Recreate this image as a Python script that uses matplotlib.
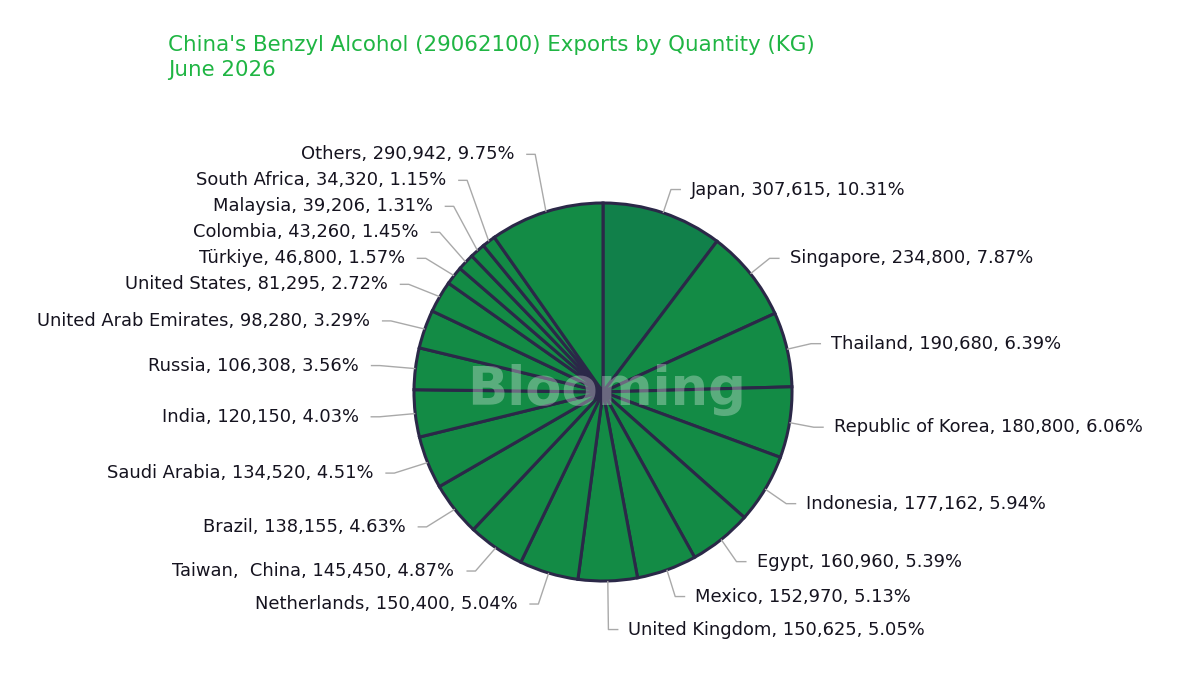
import numpy as np
import matplotlib
matplotlib.use("Agg")
import matplotlib.pyplot as plt

countries = ["Japan", "Singapore", "Thailand", "Republic of Korea", "Indonesia",
             "Egypt", "Mexico", "United Kingdom", "Netherlands", "Taiwan,  China",
             "Brazil", "Saudi Arabia", "India", "Russia", "United Arab Emirates",
             "United States", "Türkiye", "Colombia", "Malaysia", "South Africa", "Others"]
quantities = [307615, 234800, 190680, 180800, 177162, 160960, 152970, 150625,
              150400, 145450, 138155, 134520, 120150, 106308, 98280, 81295,
              46800, 43260, 39206, 34320, 290942]

title_line1 = "China's Benzyl Alcohol (29062100) Exports by Quantity (KG)"
title_line2 = "June 2026"

W, H = 1200, 675
fig = plt.figure(figsize=(12, 6.75), dpi=100)
ax = fig.add_axes([0, 0, 1, 1])

cx, cy, R = 603, H - 392, 189
colors = ["#11804a"] + ["#138b45"] * (len(quantities) - 1)
wedges, _ = ax.pie(quantities, colors=colors, startangle=90, counterclock=False,
                   center=(cx, cy), radius=R, frame=True,
                   wedgeprops=dict(edgecolor="#2b2848", linewidth=2.2))
ax.set_xlim(0, W)
ax.set_ylim(0, H)
ax.set_aspect("equal")
ax.axis("off")

total = float(sum(quantities))
font = "DejaVu Sans"

# label layout
items = []
for i, w in enumerate(wedges):
    mid = np.deg2rad((w.theta1 + w.theta2) / 2)
    c, s = np.cos(mid), np.sin(mid)
    side = 1 if c >= 0 else -1
    rx = (1.13 if side > 0 else 1.19) * R
    ry = (1.13 if s >= 0 else 1.15) * R
    items.append(dict(i=i, c=c, s=s, ex=rx * c, ey=ry * s, side=side))

for side in (1, -1):
    sub = [it for it in items if it["side"] == side]
    upper = sorted([it for it in sub if it["ey"] >= 0], key=lambda t: t["ey"])
    lower = sorted([it for it in sub if it["ey"] < 0], key=lambda t: -t["ey"])
    gap_up, gap_low = 26, 33
    prev = None
    for it in upper:
        if prev is not None and it["ey"] < prev + gap_up:
            it["ey"] = prev + gap_up
        prev = it["ey"]
    prev = None
    for it in lower:
        if prev is not None and it["ey"] > prev - gap_low:
            it["ey"] = prev - gap_low
        prev = it["ey"]

for it in items:
    i = it["i"]
    sd = it["side"]
    ax0, ay0 = cx + R * it["c"], cy + R * it["s"]
    ex, ey = cx + it["ex"], cy + it["ey"]
    hx = ex + sd * (10 if sd > 0 else 9)
    ax.plot([ax0, ex, hx], [ay0, ey, ey], color="#a9a9a9", lw=1.0,
            solid_capstyle="butt", zorder=1)
    pct = quantities[i] / total * 100
    label = f"{countries[i]}, {quantities[i]:,}, {pct:.2f}%"
    ax.text(hx + sd * (10 if sd > 0 else 12), ey, label,
            ha="left" if sd > 0 else "right",
            va="center", fontsize=12.9, family=font, color="#15131f")

# watermark
ax.text(cx + 4, cy + 2, "Blooming", ha="center", va="center", fontsize=38,
        family=font, fontweight="bold", color="white", alpha=0.3, zorder=5)

fig.text(168 / W, 1 - 45 / H, title_line1, ha="left", va="center", fontsize=15.4,
         family=font, color="#1fb543")
fig.text(168 / W, 1 - 70 / H, title_line2, ha="left", va="center", fontsize=15.4,
         family=font, color="#1fb543")

fig.savefig("out.png", dpi=100, facecolor="white")
